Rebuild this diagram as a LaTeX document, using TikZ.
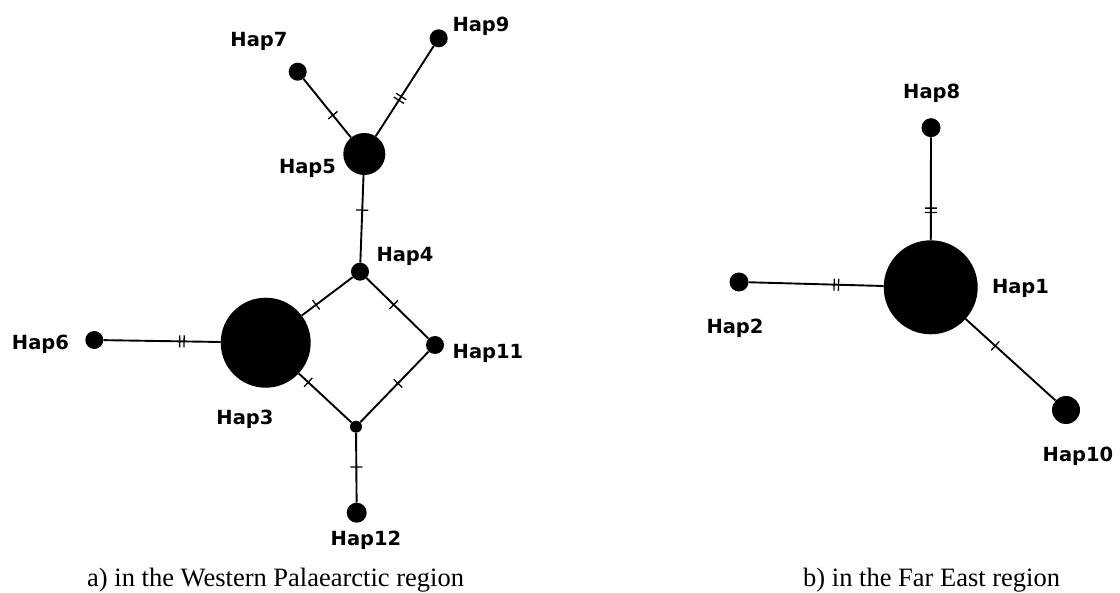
\documentclass[tikz,border=0pt]{standalone}
\usepackage{fontspec}
\setmainfont{Liberation Serif}
\newfontfamily\hapfont{DejaVu Sans}
\usetikzlibrary{decorations.markings}

\tikzset{
  hap/.style={circle, fill=black, draw=none, inner sep=0pt, minimum size=#1},
  lbl/.style={font=\hapfont\bfseries\fontsize{19.5}{22}\selectfont, inner sep=0pt, anchor=base},
  captext/.style={font=\fontsize{26.5}{30}\selectfont, inner sep=0pt, anchor=base west},
  edge/.style={line width=1.9pt},
  onetick/.style={postaction={decorate, decoration={markings,
      mark=at position #1 with {\draw[line width=1.3pt] (0,-6) -- (0,6);}}}},
  twotick/.style={postaction={decorate, decoration={markings,
      mark=at position #1 with {\draw[line width=1.3pt] (-2.2,-6) -- (-2.2,6) (2.2,-6) -- (2.2,6);}}}},
}

\begin{document}
\begin{tikzpicture}[x=1pt, y=-1pt]
\useasboundingbox (0,0) rectangle (1120,593);

% ---- network a) ----
\node[hap=18pt] (h7)  at (297.7,71.7)  {};
\node[hap=18pt] (h9)  at (438.7,38.3)  {};
\node[hap=42pt] (h5)  at (364.3,154)   {};
\node[hap=18pt] (h4)  at (360,271.7)   {};
\node[hap=90pt] (h3)  at (265.7,342.7) {};
\node[hap=18pt] (h11) at (435,345)     {};
\node[hap=12pt] (mv)  at (356,426.7)   {};
\node[hap=20pt] (h12) at (356.7,512.7) {};
\node[hap=18pt] (h6)  at (94.3,340)    {};

\draw[edge, onetick=0.62] (h7) -- (h5);
\draw[edge, twotick=0.42] (h5) -- (h9);
\draw[edge, onetick=0.40] (h5) -- (h4);
\draw[edge, onetick=0.72] (h4) -- (h3);
\draw[edge, onetick=0.44] (h4) -- (h11);
\draw[edge, onetick=0.18] (h3) -- (mv);
\draw[edge, onetick=0.45] (h11) -- (mv);
\draw[edge, twotick=0.67] (h6) -- (h3);
\draw[edge, onetick=0.49] (mv) -- (h12);

\node[lbl] (l7)  at (259,46.7)  {Hap7};
\node[lbl] (l9)  at (481,31.7)  {Hap9};
\node[lbl] (l5)  at (307.5,174) {Hap5};
\node[lbl] (l4)  at (405,261.7) {Hap4};
\node[lbl] (l6)  at (40.5,350)  {Hap6};
\node[lbl] (l3)  at (245,425)   {Hap3};
\node[lbl] (l11) at (488,359)   {Hap11};
\node[lbl] (l12) at (366,545)   {Hap12};

% ---- network b) ----
\node[hap=19pt] (h8)  at (931,127.7)   {};
\node[hap=94pt] (h1)  at (930.7,287.3) {};
\node[hap=19pt] (h2)  at (739,282)     {};
\node[hap=28pt] (h10) at (1066,410)    {};

\draw[edge, twotick=0.71] (h8) -- (h1);
\draw[edge, twotick=0.65] (h2) -- (h1);
\draw[edge, onetick=0.33] (h1) -- (h10);

\node[lbl] (l8)  at (931.7,99)    {Hap8};
\node[lbl] (l1)  at (1020.5,293.3) {Hap1};
\node[lbl] (l2)  at (735,333.3)   {Hap2};
\node[lbl] (l10) at (1078,461.7)  {Hap10};

% ---- captions ----
\node[captext] (ca) at (87,586.5)  {a) in the Western Palaearctic region};
\node[captext] (cb) at (803,586.5) {b) in the Far East region};
\end{tikzpicture}
\end{document}
